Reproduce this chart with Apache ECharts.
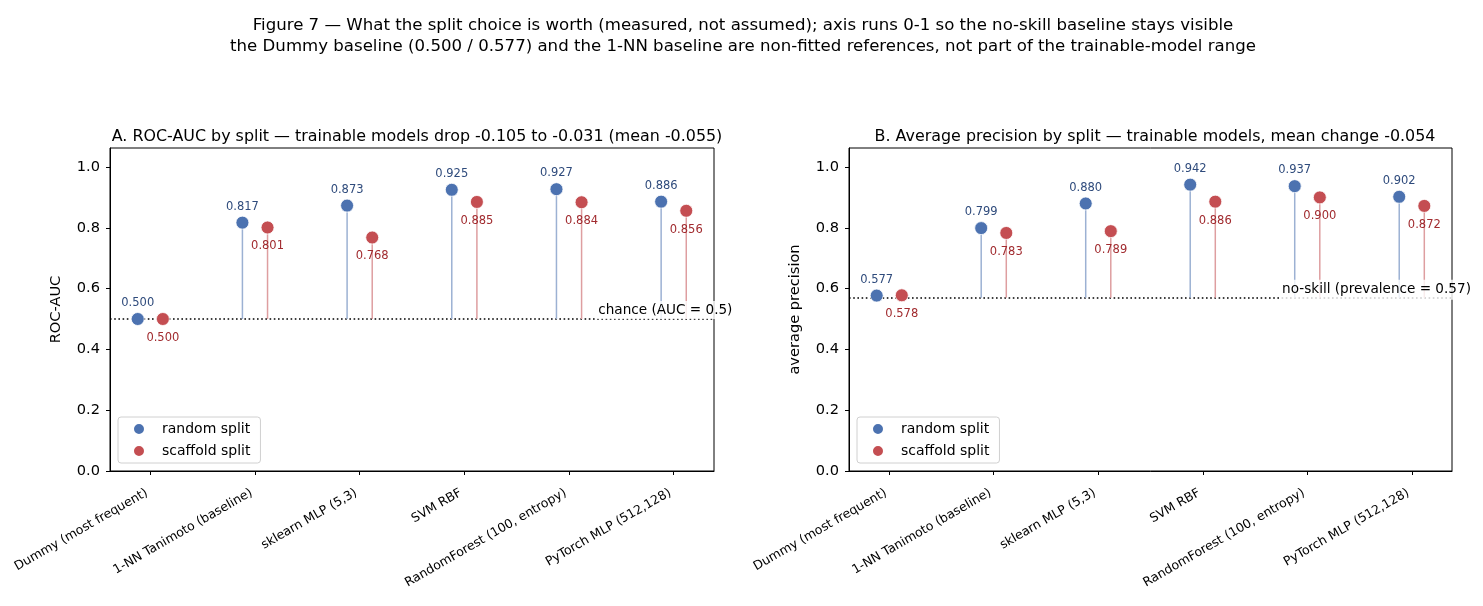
<!DOCTYPE html>
<html>
<head>
    <meta charset="UTF-8">
    <script type="text/javascript" src="https://cdn.jsdelivr.net/npm/echarts@6/dist/echarts.min.js"></script>
    <style>
        body { margin: 0; background: #fff; }
    </style>
</head>
<body>
    <div style="height: 606px;width: 1483px" id="myDiv"></div>
    <script type="text/javascript">
        // models on the x axis
        var categories = ['Dummy (most frequent)', '1-NN Tanimoto (baseline)', 'sklearn MLP (5,3)',
            'SVM RBF', 'RandomForest (100, entropy)', 'PyTorch MLP (512,128)'];
        // panel A: ROC-AUC
        var aucRandom = [0.500, 0.817, 0.873, 0.925, 0.927, 0.886];
        var aucScaffold = [0.500, 0.801, 0.768, 0.885, 0.884, 0.856];
        // panel B: average precision
        var apRandom = [0.577, 0.799, 0.880, 0.942, 0.937, 0.902];
        var apScaffold = [0.578, 0.783, 0.789, 0.886, 0.900, 0.872];
        // baselines
        var aucChance = 0.5;
        var apNoSkill = 0.57;
        var yTicks = [0, 0.2, 0.4, 0.6, 0.8, 1.0];
        var xTicks = [0, 1, 2, 3, 4, 5];

        var FONT = 'DejaVu Sans';
        var BLUE = '#4c72b0', RED = '#c44e52';
        var BLUE_STEM = '#9cb1d3', RED_STEM = '#de9ea0';
        var BLUE_TXT = '#2f4b7c', RED_TXT = '#a12b2f';
        var SHIFT = 0.12;

        function pts(vals, dx) {
            var out = [];
            for (var i = 0; i < vals.length; i++) out.push([i + dx, vals[i]]);
            return out;
        }

        function stemSeries(vals, dx, base, color, idx) {
            return {
                name: 'stem',
                type: 'custom',
                xAxisIndex: idx, yAxisIndex: idx,
                z: 2,
                silent: true,
                data: pts(vals, dx),
                renderItem: function (params, api) {
                    var p1 = api.coord([api.value(0), base]);
                    var p2 = api.coord([api.value(0), api.value(1)]);
                    return {
                        type: 'line',
                        shape: {x1: p1[0], y1: p1[1], x2: p2[0], y2: p2[1]},
                        style: {stroke: color, lineWidth: 1.5}
                    };
                }
            };
        }

        function dotSeries(name, vals, dx, color, txtColor, pos, idx) {
            return {
                name: name,
                type: 'scatter',
                xAxisIndex: idx, yAxisIndex: idx,
                z: 4,
                symbolSize: 13,
                itemStyle: {color: color, borderColor: '#fff', borderWidth: 0.8, opacity: 1},
                label: {
                    show: true,
                    position: pos,
                    distance: pos === 'top' ? 3 : 6,
                    color: txtColor,
                    fontFamily: FONT,
                    fontSize: 11.5,
                    formatter: function (p) { return p.value[1].toFixed(3); }
                },
                data: pts(vals, dx)
            };
        }

        function baseSeries(base, x, text, idx, offY, pad) {
            return {
                name: 'base',
                type: 'scatter',
                xAxisIndex: idx, yAxisIndex: idx,
                z: 3,
                symbolSize: 0,
                silent: true,
                itemStyle: {opacity: 1},
                data: [[x, base]],
                label: {
                    show: true,
                    position: 'right',
                    distance: 0,
                    offset: [0, offY],
                    formatter: text,
                    color: '#000',
                    fontFamily: FONT,
                    fontSize: 13.6,
                    backgroundColor: 'rgba(255,255,255,0.8)',
                    padding: pad
                },
                markLine: {
                    silent: true,
                    symbol: 'none',
                    z: 1,
                    label: {show: false},
                    lineStyle: {color: '#000', type: [1.6, 2.6], width: 1.7, opacity: 1},
                    data: [{yAxis: base}]
                }
            };
        }

        function xAxis(idx) {
            return {
                type: 'value', gridIndex: idx,
                min: -0.385, max: 5.385,
                splitLine: {show: false},
                axisLine: {onZero: false, lineStyle: {color: '#000', width: 1}},
                axisTick: {show: true, length: 4, lineStyle: {color: '#000'}, customValues: xTicks},
                axisLabel: {
                    customValues: xTicks,
                    rotate: 30,
                    margin: 19,
                    padding: [0, 4, 0, 0],
                    color: '#000',
                    fontFamily: FONT,
                    fontSize: 12.5,
                    formatter: function (v) { return categories[Math.round(v)]; }
                }
            };
        }

        function yAxis(idx, name) {
            return {
                type: 'value', gridIndex: idx,
                min: 0, max: 1.0625,
                name: name,
                nameLocation: 'middle',
                nameGap: 46,
                nameTextStyle: {color: '#000', fontFamily: FONT, fontSize: 14.6},
                splitLine: {show: false},
                axisLine: {show: true, onZero: false, lineStyle: {color: '#000', width: 1}},
                axisTick: {show: true, length: 4, lineStyle: {color: '#000'}, customValues: yTicks},
                axisLabel: {
                    customValues: yTicks,
                    margin: 10,
                    color: '#000',
                    fontFamily: FONT,
                    fontSize: 14.6,
                    formatter: function (v) { return v.toFixed(1); }
                }
            };
        }

        function legend(left) {
            return {
                left: left, top: 417,
                orient: 'vertical',
                data: ['random split', 'scaffold split'],
                icon: 'circle',
                itemWidth: 12, itemHeight: 12,
                itemGap: 8,
                padding: [5, 10, 5, 14],
                backgroundColor: '#fff',
                borderColor: '#d0d0d0',
                borderWidth: 1,
                borderRadius: 3,
                selectedMode: false,
                textStyle: {color: '#000', fontFamily: FONT, fontSize: 14, padding: [0, 0, 0, 12]}
            };
        }

        var chart = echarts.init(document.getElementById('myDiv'));
        var option = {
            backgroundColor: '#fff',
            animation: false,
            title: [
                {
                    text: 'Figure 7 \u2014 What the split choice is worth (measured, not assumed); axis runs 0-1 so the no-skill baseline stays visible\nthe Dummy baseline (0.500 / 0.577) and the 1-NN baseline are non-fitted references, not part of the trainable-model range',
                    left: 738, top: 10, textAlign: 'center',
                    textStyle: {fontFamily: FONT, fontSize: 16.6, fontWeight: 'normal', color: '#000', lineHeight: 21}
                },
                {
                    text: 'A. ROC-AUC by split \u2014 trainable models drop -0.105 to -0.031 (mean -0.055)',
                    left: 412, top: 124, textAlign: 'center',
                    textStyle: {fontFamily: FONT, fontSize: 15.9, fontWeight: 'normal', color: '#000'}
                },
                {
                    text: 'B. Average precision by split \u2014 trainable models, mean change -0.054',
                    left: 1150, top: 124, textAlign: 'center',
                    textStyle: {fontFamily: FONT, fontSize: 15.9, fontWeight: 'normal', color: '#000'}
                }
            ],
            legend: [legend(118), legend(857)],
            grid: [
                {left: 110, top: 148, width: 604, height: 323, show: true, borderColor: '#000', borderWidth: 1, backgroundColor: 'transparent'},
                {left: 849, top: 148, width: 603, height: 323, show: true, borderColor: '#000', borderWidth: 1, backgroundColor: 'transparent'}
            ],
            xAxis: [xAxis(0), xAxis(1)],
            yAxis: [yAxis(0, 'ROC-AUC'), yAxis(1, 'average precision')],
            series: [
                stemSeries(aucRandom, -SHIFT, aucChance, BLUE_STEM, 0),
                stemSeries(aucScaffold, SHIFT, aucChance, RED_STEM, 0),
                baseSeries(aucChance, 4.26, 'chance (AUC = 0.5)', 0, -9, [2, 2, 2, 2]),
                dotSeries('random split', aucRandom, -SHIFT, BLUE, BLUE_TXT, 'top', 0),
                dotSeries('scaffold split', aucScaffold, SHIFT, RED, RED_TXT, 'bottom', 0),

                stemSeries(apRandom, -SHIFT, apNoSkill, BLUE_STEM, 1),
                stemSeries(apScaffold, SHIFT, apNoSkill, RED_STEM, 1),
                baseSeries(apNoSkill, 3.74, 'no-skill (prevalence = 0.57)', 1, -8, [2, 2, 4, 2]),
                dotSeries('random split', apRandom, -SHIFT, BLUE, BLUE_TXT, 'top', 1),
                dotSeries('scaffold split', apScaffold, SHIFT, RED, RED_TXT, 'bottom', 1)
            ]
        };
        chart.setOption(option);
    </script>
</body>
</html>
